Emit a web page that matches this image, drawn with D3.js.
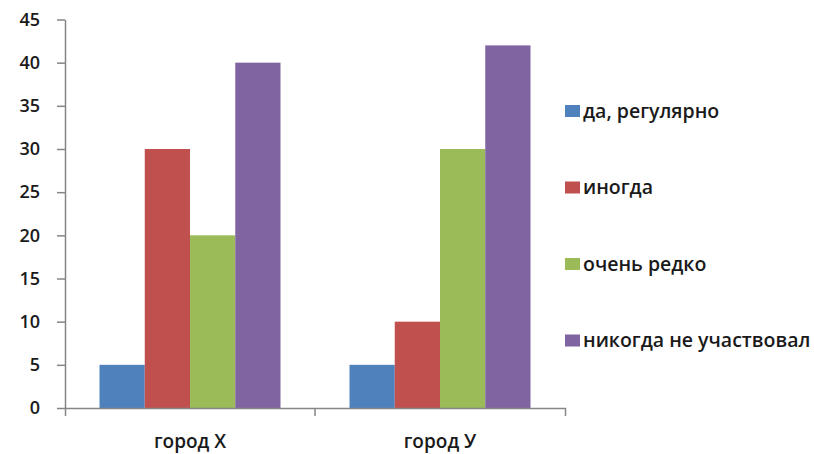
<!DOCTYPE html>
<html lang="ru">
  <head>
    <meta charset="UTF-8" />
    <title>Города</title>
    <script src="https://d3js.org/d3.v7.min.js"></script>
    <style>
      body {
        margin: 0;
        background: #fff;
        font-family: "Open Sans", Arial, sans-serif;
      }
      .axis path,
      .axis line {
        stroke: #868686;
        stroke-width: 1.5;
      }
      .axis text {
        fill: #1a1a1a;
        font-family: "Open Sans", Arial, sans-serif;
        font-weight: 600;
      }
      .legend text {
        fill: #1a1a1a;
        font-size: 19.5px;
        font-weight: 600;
      }
    </style>
  </head>
  <body>
    <div id="chart"></div>
    <script>
      // data
      const categories = ["город Х", "город У"];
      const seriesNames = ["да, регулярно", "иногда", "очень редко", "никогда не участвовал"];
      const seriesColors = ["#4f81bd", "#c0504d", "#9bbb59", "#8064a2"];
      const valuesX = [5, 30, 20, 40];
      const valuesY = [5, 10, 30, 42];
      const yTicks = [0, 5, 10, 15, 20, 25, 30, 35, 40, 45];

      const width = 814;
      const height = 454;
      const margin = { top: 19.5, left: 65, right: 249, bottom: 46 };

      const svg = d3
        .select("#chart")
        .append("svg")
        .attr("width", width)
        .attr("height", height);

      const x = d3
        .scaleBand()
        .domain(categories)
        .range([margin.left, width - margin.right])
        .paddingInner(0.276)
        .paddingOuter(0.138);

      const xs = d3
        .scaleBand()
        .domain(seriesNames)
        .range([0, x.bandwidth()]);

      const y = d3
        .scaleLinear()
        .domain([0, 45])
        .range([height - margin.bottom, margin.top]);

      const rows = [valuesX, valuesY];

      // bars
      const groups = svg
        .selectAll("g.group")
        .data(categories)
        .enter()
        .append("g")
        .attr("class", "group")
        .attr("transform", (d) => `translate(${x(d)},0)`);

      groups
        .selectAll("rect")
        .data((d, i) => rows[i].map((v, j) => ({ name: seriesNames[j], value: v, color: seriesColors[j] })))
        .enter()
        .append("rect")
        .attr("x", (d) => xs(d.name))
        .attr("width", xs.bandwidth())
        .attr("y", (d) => y(d.value))
        .attr("height", (d) => y(0) - y(d.value))
        .attr("fill", (d) => d.color);

      // y axis
      const yAxis = svg
        .append("g")
        .attr("class", "axis")
        .attr("transform", `translate(${margin.left},0)`)
        .call(d3.axisLeft(y).tickValues(yTicks).tickSize(8).tickPadding(17).tickSizeOuter(0));
      yAxis.selectAll("text").style("font-size", "18px");

      // x axis
      const xAxis = svg
        .append("g")
        .attr("class", "axis")
        .attr("transform", `translate(0,${y(0)})`)
        .call(d3.axisBottom(x).tickSizeInner(0).tickSizeOuter(8).tickPadding(27));
      xAxis.selectAll("text").style("font-size", "19px");

      // boundary ticks between categories
      xAxis
        .selectAll("line.sep")
        .data(categories.slice(1))
        .enter()
        .append("line")
        .attr("class", "sep")
        .attr("x1", (d) => x(d) - (x.step() * x.paddingInner()) / 2)
        .attr("x2", (d) => x(d) - (x.step() * x.paddingInner()) / 2)
        .attr("y1", 0)
        .attr("y2", 8);

      // legend
      const legend = svg
        .append("g")
        .attr("class", "legend")
        .attr("transform", "translate(565,111)");

      const item = legend
        .selectAll("g")
        .data(seriesNames)
        .enter()
        .append("g")
        .attr("transform", (d, i) => `translate(0,${i * 76.5})`);

      item
        .append("rect")
        .attr("x", 0)
        .attr("y", -6)
        .attr("width", 15)
        .attr("height", 12)
        .attr("fill", (d, i) => seriesColors[i]);

      item
        .append("text")
        .attr("x", 18)
        .attr("dy", "0.35em")
        .text((d) => d);
    </script>
  </body>
</html>
